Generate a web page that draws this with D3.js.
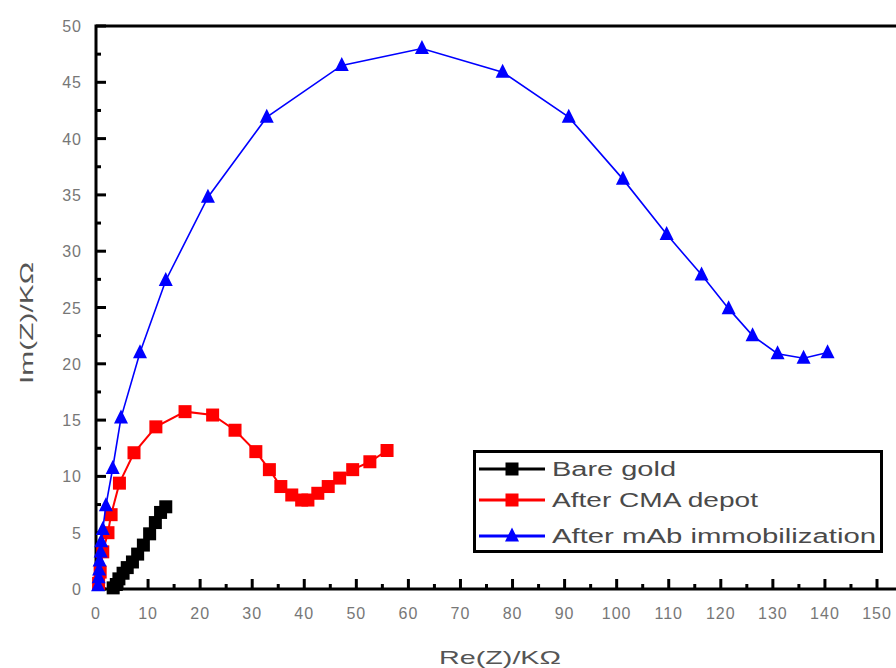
<!DOCTYPE html>
<html><head><meta charset="utf-8">
<script src="https://cdn.jsdelivr.net/npm/d3@7"></script>
<style>body{margin:0;background:#fff}svg{display:block}</style>
</head><body>
<script>
// ---- data ----
const bareGoldX = [3.3, 3.9, 4.4, 5.2, 6.0, 7.0, 8.0, 9.1, 10.3, 11.4, 12.4, 13.4];
const bareGoldY = [0.1, 0.4, 0.9, 1.4, 1.9, 2.4, 3.1, 3.9, 4.9, 5.9, 6.8, 7.3];

const cmaX = [0.5, 0.8, 1.3, 2.3, 2.9, 4.5, 7.3, 11.5, 17.1, 22.4, 26.7, 30.7, 33.3, 35.5, 37.6, 39.5, 40.7, 42.6, 44.6, 46.8, 49.3, 52.6, 55.9];
const cmaY = [0.5, 1.5, 3.3, 5.0, 6.6, 9.4, 12.1, 14.4, 15.75, 15.45, 14.1, 12.2, 10.6, 9.1, 8.35, 7.9, 7.9, 8.5, 9.1, 9.85, 10.6, 11.3, 12.3];

const mabX = [0.4, 0.5, 0.6, 0.7, 0.9, 1.0, 1.3, 1.9, 3.2, 4.8, 8.45, 13.4, 21.5, 32.8, 47.2, 62.6, 78.1, 90.8, 101.2, 109.6, 116.3, 121.5, 126.1, 130.9, 135.9, 140.5];
const mabY = [0.3, 1.0, 1.7, 2.5, 3.3, 4.2, 5.3, 7.4, 10.7, 15.2, 21.0, 27.4, 34.8, 41.9, 46.5, 48.0, 45.9, 41.9, 36.4, 31.5, 27.9, 24.9, 22.5, 20.9, 20.5, 21.0];

const seriesNames = ["Bare gold", "After CMA depot", "After mAb immobilization"];
const seriesColors = ["#000000", "#ff0000", "#0000ff"];
const seriesShapes = ["square", "square", "triangle"];
const xTicks = [0,10,20,30,40,50,60,70,80,90,100,110,120,130,140,150];
const yTicks = [0,5,10,15,20,25,30,35,40,45,50];
const xLabel = "Re(Z)/KΩ";
const yLabel = "Im(Z)/KΩ";

// ---- chart ----
const W = 896, H = 668;
const svg = d3.select("body").append("svg").attr("width", W).attr("height", H);
const x = d3.scaleLinear().domain([0, 150]).range([96, 877]);
const y = d3.scaleLinear().domain([0, 50]).range([589, 26]);

const font = "Arial, 'Liberation Sans', sans-serif";

// frame
svg.append("path")
  .attr("d", `M${x(0)},${y(0)} L${x(0)},${y(50)} L905,${y(50)} L905,${y(0)} Z`)
  .attr("fill", "none").attr("stroke", "#000").attr("stroke-width", 3);

// x ticks (inside)
const xMinor = d3.range(5, 150, 10);
svg.append("g").selectAll("line").data(xTicks).join("line")
  .attr("x1", d => x(d)).attr("x2", d => x(d))
  .attr("y1", y(0)).attr("y2", y(0) - 10)
  .attr("stroke", "#000").attr("stroke-width", 3);
svg.append("g").selectAll("line").data(xMinor).join("line")
  .attr("x1", d => x(d)).attr("x2", d => x(d))
  .attr("y1", y(0)).attr("y2", y(0) - 5)
  .attr("stroke", "#000").attr("stroke-width", 3);
svg.append("g").selectAll("text").data(xTicks).join("text")
  .attr("x", d => x(d)).attr("y", 619)
  .attr("text-anchor", "middle")
  .attr("font-family", font).attr("font-size", 16)
  .attr("letter-spacing", 1)
  .attr("fill", "#777")
  .text(d => d);

// y ticks (inside)
const yMinor = d3.range(2.5, 50, 5);
svg.append("g").selectAll("line").data(yTicks).join("line")
  .attr("x1", x(0)).attr("x2", x(0) + 10)
  .attr("y1", d => y(d)).attr("y2", d => y(d))
  .attr("stroke", "#000").attr("stroke-width", 3);
svg.append("g").selectAll("line").data(yMinor).join("line")
  .attr("x1", x(0)).attr("x2", x(0) + 5)
  .attr("y1", d => y(d)).attr("y2", d => y(d))
  .attr("stroke", "#000").attr("stroke-width", 3);
svg.append("g").selectAll("text").data(yTicks).join("text")
  .attr("x", 82).attr("y", d => y(d) + 6)
  .attr("text-anchor", "end")
  .attr("font-family", font).attr("font-size", 16)
  .attr("letter-spacing", 1)
  .attr("fill", "#777")
  .text(d => d);

// axis titles
svg.append("text").attr("x", 500).attr("y", 664)
  .attr("text-anchor", "middle").attr("font-family", font).attr("font-size", 19)
  .attr("fill", "#555").attr("textLength", 122).attr("lengthAdjust", "spacingAndGlyphs")
  .text(xLabel);
svg.append("text").attr("transform", "translate(33,323) rotate(-90)")
  .attr("text-anchor", "middle").attr("font-family", font).attr("font-size", 19)
  .attr("fill", "#555").attr("textLength", 122).attr("lengthAdjust", "spacingAndGlyphs")
  .text(yLabel);

// series
const allSeries = [
  bareGoldX.map((v, i) => [v, bareGoldY[i]]),
  cmaX.map((v, i) => [v, cmaY[i]]),
  mabX.map((v, i) => [v, mabY[i]])
];
const lineGen = d3.line().x(d => x(d[0])).y(d => y(d[1]));
const lineWidths = [2.5, 2, 1.6];

function marker(g, shape, cx, cy, color, size) {
  if (shape === "square") {
    g.append("rect").attr("x", cx - size / 2).attr("y", cy - size / 2)
      .attr("width", size).attr("height", size).attr("fill", color);
  } else {
    const h = size;
    g.append("path")
      .attr("d", `M${cx},${cy - h * 0.6} L${cx + size / 2},${cy + h * 0.4} L${cx - size / 2},${cy + h * 0.4} Z`)
      .attr("fill", color);
  }
}

allSeries.forEach((pts, k) => {
  const g = svg.append("g");
  g.append("path").datum(pts).attr("d", lineGen)
    .attr("fill", "none").attr("stroke", seriesColors[k]).attr("stroke-width", lineWidths[k]);
  pts.forEach(p => marker(g, seriesShapes[k], x(p[0]), y(p[1]), seriesColors[k], seriesShapes[k] === "square" ? 13 : 14));
});

// legend
const lg = svg.append("g");
lg.append("rect").attr("x", 474.5).attr("y", 451.5).attr("width", 407).attr("height", 100)
  .attr("fill", "#fff").attr("stroke", "#000").attr("stroke-width", 3);
const rowY = [469, 500, 536];
const textLens = [124, 206, 324];
seriesNames.forEach((name, k) => {
  lg.append("line").attr("x1", 479).attr("x2", 545).attr("y1", rowY[k]).attr("y2", rowY[k])
    .attr("stroke", seriesColors[k]).attr("stroke-width", 3);
  marker(lg, seriesShapes[k], 512, rowY[k], seriesColors[k], seriesShapes[k] === "square" ? 13 : 14);
  lg.append("text").attr("x", 552).attr("y", rowY[k] + 7)
    .attr("font-family", font).attr("font-size", 20).attr("fill", "#4a4a4a")
    .attr("textLength", textLens[k]).attr("lengthAdjust", "spacingAndGlyphs")
    .text(name);
});
</script>
</body></html>
